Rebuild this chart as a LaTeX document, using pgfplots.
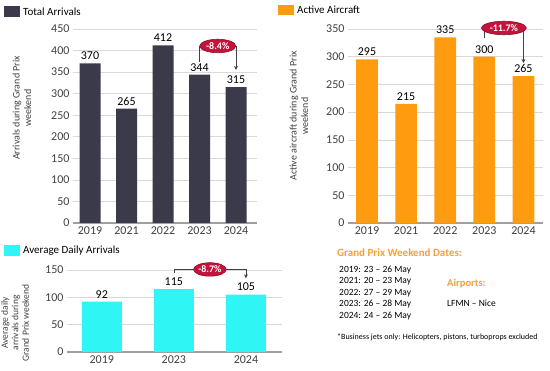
\documentclass[border=0pt]{standalone}
\usepackage{pgfplots}
\pgfplotsset{compat=1.18}
\usepackage{fontspec}
\setmainfont{Carlito}
\usetikzlibrary{shapes.geometric,arrows.meta}
\definecolor{darkbar}{HTML}{3B3A4A}
\definecolor{orangebar}{HTML}{FF9B0F}
\definecolor{cyanbar}{HTML}{30F5F5}
\definecolor{titleorange}{HTML}{F7A12E}
\definecolor{badge}{HTML}{C4143C}
\definecolor{gridgrey}{HTML}{D9D9D9}
\definecolor{axisgrey}{HTML}{A0A0A0}
\definecolor{txt}{HTML}{404040}
\pgfplotsset{
  panel/.style={
    scale only axis, ybar, ymin=0,
    axis x line*=bottom, axis y line*=left,
    y axis line style={draw=none},
    x axis line style={axisgrey, line width=1.2pt},
    major tick length=0pt,
    ymajorgrids, grid style={gridgrey, line width=0.6pt},
    xtick=data,
    tick label style={font=\fontsize{12}{14}\selectfont, text=txt},
    /pgf/number format/assume math mode=true,
    nodes near coords,
    nodes near coords style={font=\fontsize{12}{14}\selectfont, text=black},
    clip=false,
  },
}
\tikzset{
  badgenode/.style={ellipse, fill=badge, draw=badge!70!black, line width=0.6pt, inner sep=0pt, text=white, font=\bfseries\fontsize{10}{11}\selectfont, minimum height=13.5pt},
  bracket/.style={draw=black!75, line width=0.6pt},
}
\begin{document}
\begin{tikzpicture}
\useasboundingbox (0pt,0pt) rectangle (550pt,371pt);
% Panel 1
\begin{axis}[panel, at={(73pt,148pt)}, anchor=south west, width=184pt, height=194pt,
  ymax=450, ytick={0,50,...,450}, xmin=-0.466, xmax=4.575,
  xticklabels={2019,2021,2022,2023,2024}, bar width=21pt]
\addplot[fill=darkbar, draw=none] coordinates {(0,370)(1,265)(2,412)(3,344)(4,315)};
\draw[bracket, -{Stealth[length=4pt,width=4pt]}] (axis cs:3,373) -- (axis cs:3,410.6) -- (axis cs:4,410.6) -- (axis cs:4,355);
\node[badgenode, minimum width=36pt] at (axis cs:3.5,410.6) {-8.4\%};
\end{axis}
% Panel 2
\begin{axis}[panel, at={(348pt,148pt)}, anchor=south west, width=195pt, height=194pt,
  ymax=350, ytick={0,50,...,350}, xmin=-0.486, xmax=4.5,
  xticklabels={2019,2021,2022,2023,2024}, bar width=21.7pt]
\addplot[fill=orangebar, draw=none] coordinates {(0,295)(1,215)(2,335)(3,300)(4,265)};
\draw[bracket, -{Stealth[length=4pt,width=4pt]}] (axis cs:3,333.8) -- (axis cs:3,351.8) -- (axis cs:4,351.8) -- (axis cs:4,288.7);
\node[badgenode, minimum width=45pt] at (axis cs:3.5,351.8) {-11.7\%};
\end{axis}
% Panel 3
\begin{axis}[panel, at={(67pt,19pt)}, anchor=south west, width=215pt, height=82pt,
  ymax=150, ytick={0,50,100,150}, xmin=-0.482, xmax=2.5,
  xticklabels={2019,2023,2024}, bar width=40pt]
\addplot[fill=cyanbar, draw=none] coordinates {(0,92)(1,115)(2,105)};
\draw[bracket, -{Stealth[length=4pt,width=4pt]}] (axis cs:1,145) -- (axis cs:1,151) -- (axis cs:2,151) -- (axis cs:2,134.8);
\node[badgenode, minimum width=32pt] at (axis cs:1.5,151) {-8.7\%};
\end{axis}
% legends
\fill[darkbar] (4pt,354pt) rectangle (20pt,365pt);
\node[anchor=west, inner sep=0pt, font=\fontsize{11}{13}\selectfont] at (23pt,359.5pt) {Total Arrivals};
\fill[orangebar] (278pt,356pt) rectangle (294pt,366pt);
\node[anchor=west, inner sep=0pt, font=\fontsize{11}{13}\selectfont] at (297pt,361pt) {Active Aircraft};
\fill[cyanbar] (4pt,115pt) rectangle (20pt,126pt);
\node[anchor=west, inner sep=0pt, font=\fontsize{11}{13}\selectfont] at (23pt,120.5pt) {Average Daily Arrivals};
% y labels
\node[rotate=90, align=center, font=\fontsize{10}{11.5}\selectfont, text=txt] at (22pt,263pt) {Arrivals during Grand Prix\\weekend};
\node[rotate=90, align=center, font=\fontsize{10}{11.5}\selectfont, text=txt] at (299pt,255pt) {Active aircraft during Grand Prix\\weekend};
\node[rotate=90, align=center, font=\fontsize{9.5}{10.5}\selectfont, text=txt] at (15pt,48pt) {Average daily\\arrivals during\\Grand Prix weekend};
% text panel
\node[anchor=west, inner sep=0pt, font=\bfseries\fontsize{11}{13}\selectfont, text=titleorange] at (337pt,118pt) {Grand Prix Weekend Dates:};
\begin{scope}[every node/.style={anchor=west, inner sep=0pt, font=\fontsize{9.5}{11}\selectfont}]
\node at (339pt,101pt) {2019: 23 -- 26 May};
\node at (339pt,89.5pt) {2021: 20 -- 23 May};
\node at (339pt,78.3pt) {2022: 27 -- 29 May};
\node at (339pt,67pt) {2023: 26 -- 28 May};
\node at (339pt,55pt) {2024: 24 -- 26 May};
\node at (447pt,68pt) {LFMN -- Nice};
\end{scope}
\node[anchor=west, inner sep=0pt, font=\bfseries\fontsize{10.5}{12}\selectfont, text=titleorange] at (447pt,87pt) {Airports:};
\node[anchor=west, inner sep=0pt, font=\fontsize{8}{9}\selectfont] at (337pt,34pt) {*Business jets only: Helicopters, pistons, turboprops excluded};
\end{tikzpicture}
\end{document}
